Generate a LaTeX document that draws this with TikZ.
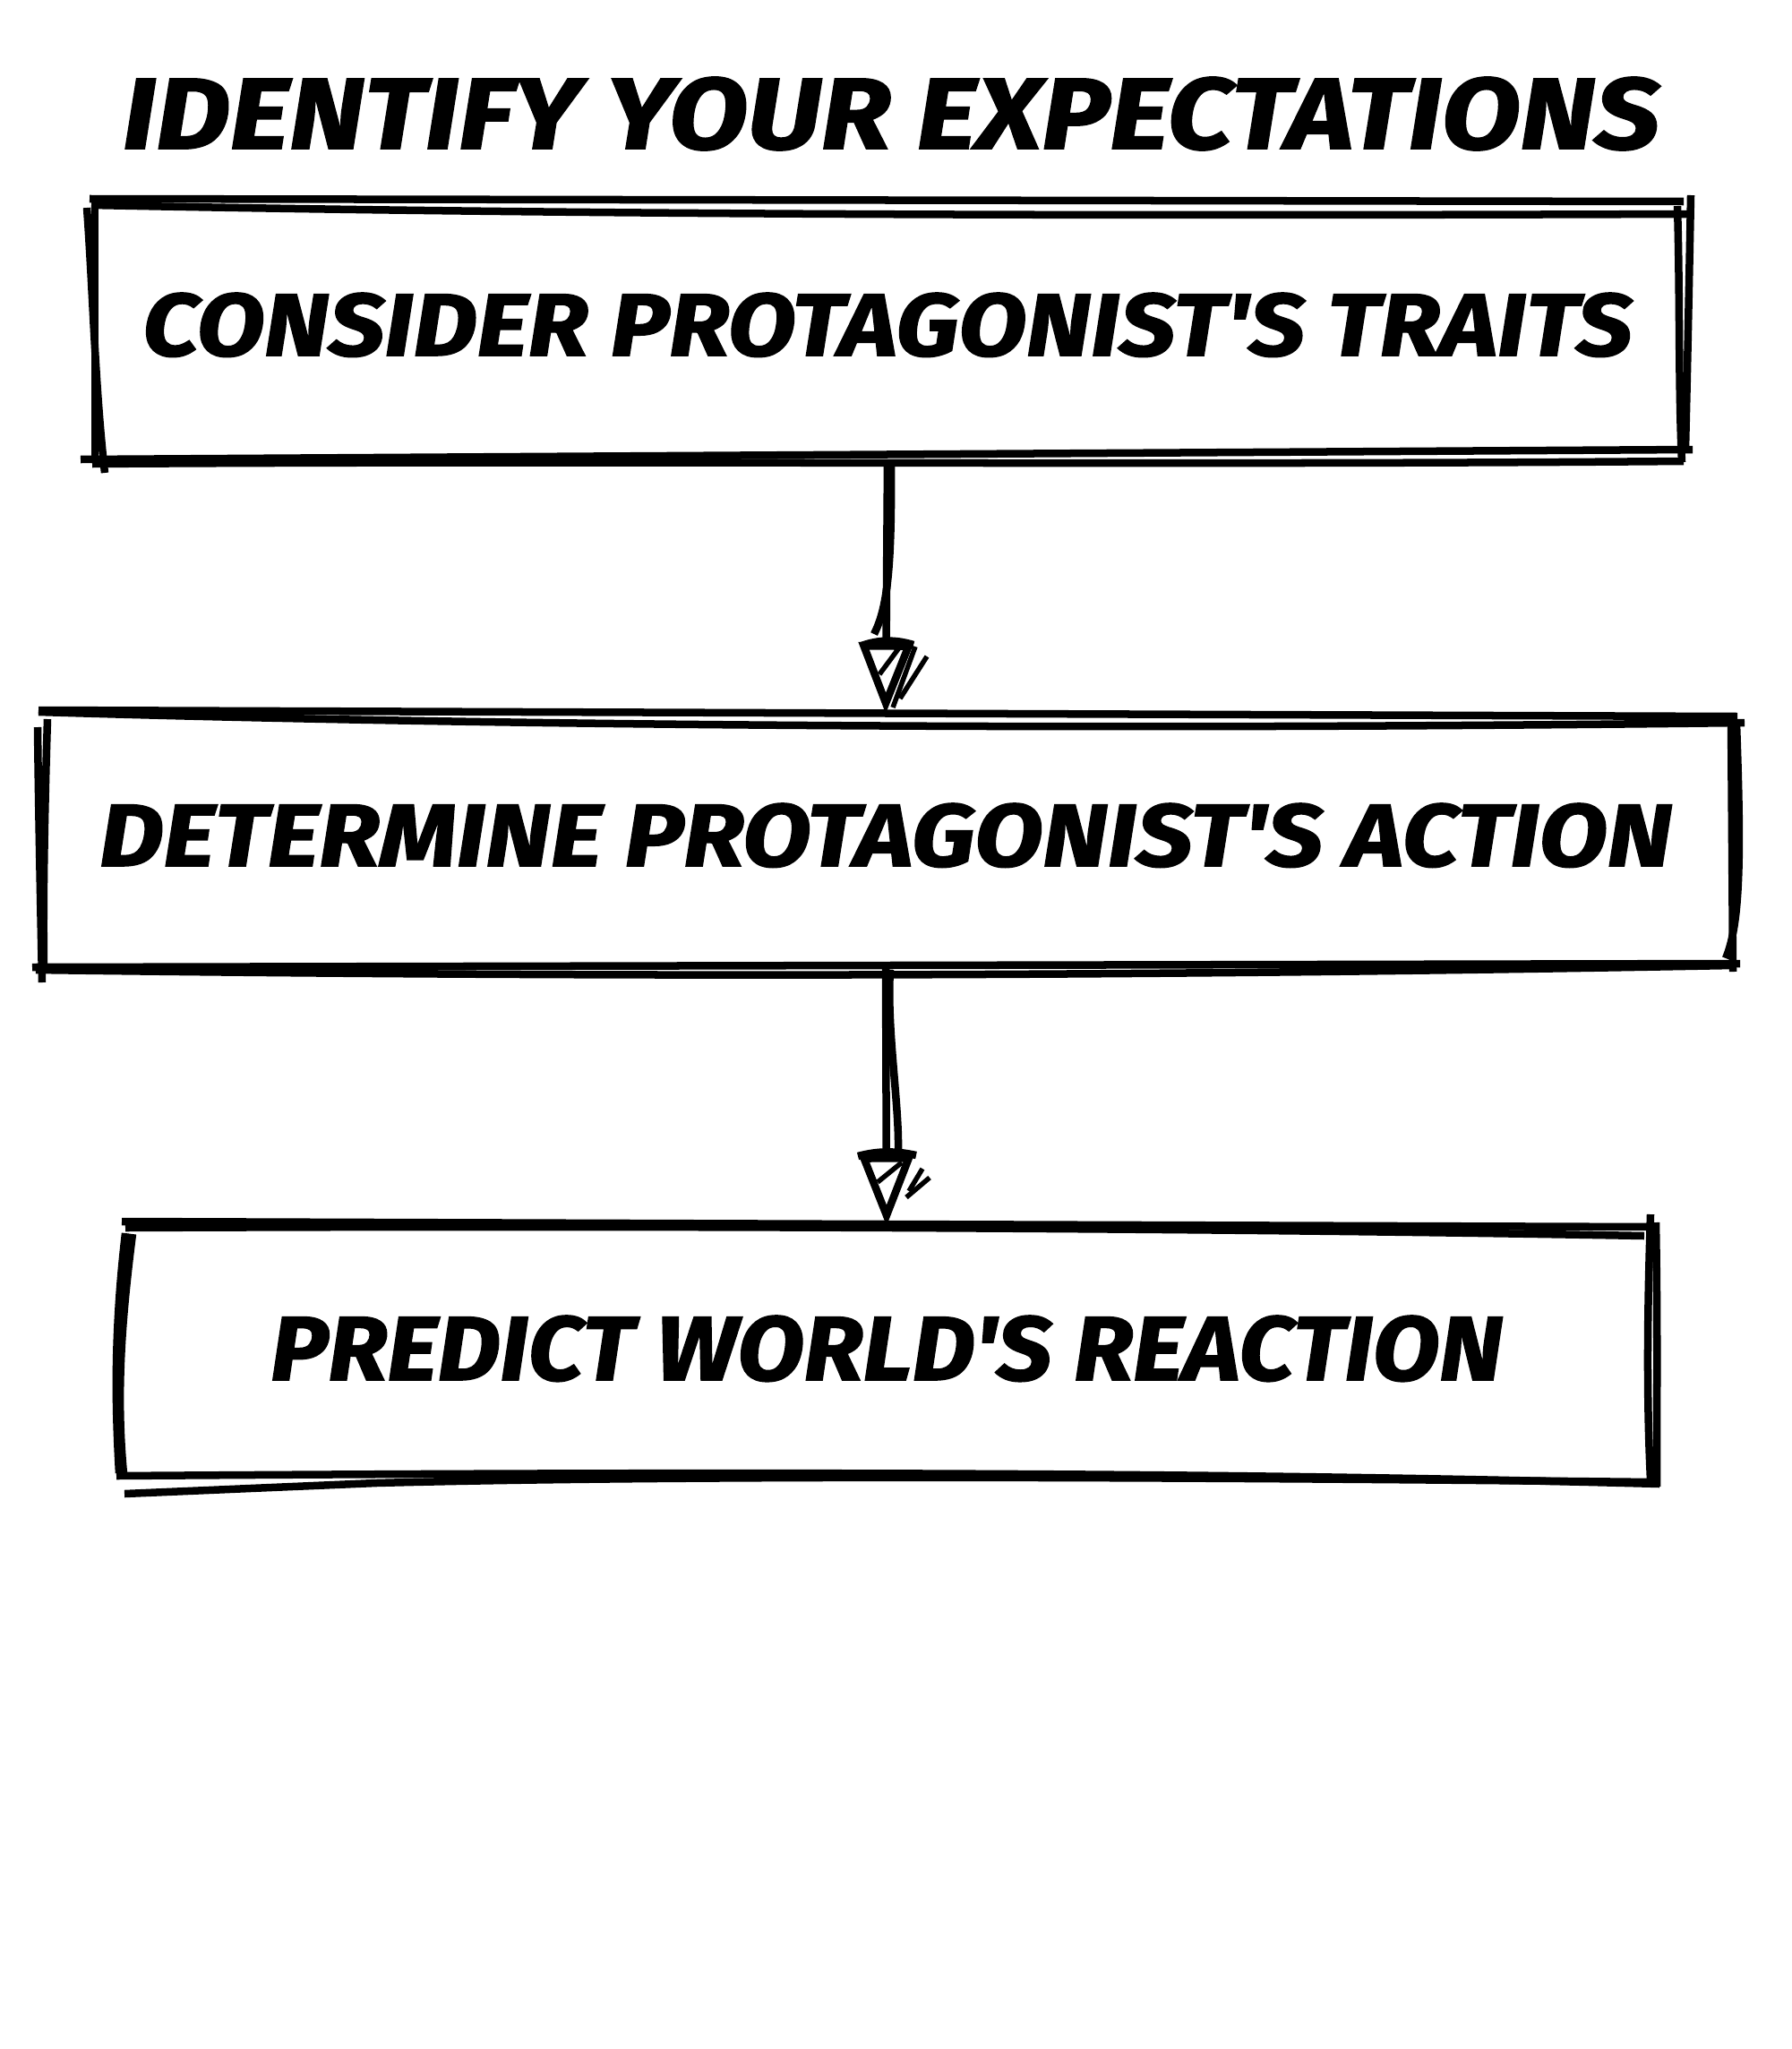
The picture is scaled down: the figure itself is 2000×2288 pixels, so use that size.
\documentclass[tikz,border=0pt]{standalone}
\usepackage{fontspec}
\newfontfamily\hand[BoldItalicFeatures={FakeBold=1.6}]{Fira Sans}
\usetikzlibrary{arrows.meta}
\begin{document}
\begin{tikzpicture}[x=0.01cm,y=-0.01cm,
  sk/.style={line width=0.085cm, line cap=butt, line join=round},
  hatch/.style={line width=0.055cm, line cap=butt},
  box/.style={draw=none, inner sep=0pt, text depth=0.12cm},
  lbl/.style={font=\hand\bfseries\itshape},
  conn/.style={sk, -{Triangle[open,length=0.8cm,width=0.6cm,line width=0.085cm]}}]
\useasboundingbox (0,0) rectangle (2000,2288);
\fill[white] (0,0) rectangle (2000,2288);

% title
\node[lbl, inner sep=0pt] (title) at (995,127) {\resizebox{17.15cm}{0.80cm}{IDENTIFY YOUR EXPECTATIONS}};

% boxes (text nodes)
\node[box, lbl, minimum width=17.77cm, minimum height=2.90cm] (b1) at (991,368)
  {\resizebox{16.62cm}{0.70cm}{CONSIDER PROTAGONIST'S TRAITS}};
\node[box, lbl, minimum width=18.88cm, minimum height=2.80cm] (b2) at (989,938)
  {\resizebox{17.55cm}{0.70cm}{DETERMINE PROTAGONIST'S ACTION}};
\node[box, lbl, minimum width=17.10cm, minimum height=2.82cm] (b3) at (990,1511)
  {\resizebox{13.75cm}{0.72cm}{PREDICT WORLD'S REACTION}};

% box 1 sketch strokes
\draw[sk] (100,222) -- (1880,225);
\draw[sk] (102,229) .. controls (700,241) and (1300,241) .. (1886,239);
\draw[sk] (106,224) -- (106,515);
\draw[sk] (97,232) .. controls (104,330) and (106,430) .. (117,528);
\draw[sk] (1873,230) .. controls (1876,330) and (1874,430) .. (1878,516);
\draw[sk] (1888,218) .. controls (1886,320) and (1884,420) .. (1882,501);
\draw[sk] (90,513) -- (1890,502);
\draw[sk] (103,518) .. controls (700,514) and (1300,520) .. (1880,515);

% box 2 sketch strokes
\draw[sk] (43,793) -- (1940,800);
\draw[sk] (43,795) .. controls (600,812) and (1300,815) .. (1948,807);
\draw[sk] (42,812) .. controls (43,900) and (45,1000) .. (47,1097);
\draw[sk] (53,803) .. controls (50,900) and (48,1000) .. (49,1077);
\draw[sk] (1933,805) -- (1935,1085);
\draw[sk] (1939,808) .. controls (1944,950) and (1944,1030) .. (1927,1070);
\draw[sk] (36,1080) -- (1943,1076);
\draw[sk] (40,1083) .. controls (700,1092) and (1300,1090) .. (1935,1078);

% box 3 sketch strokes
\draw[sk] (136,1364) -- (1850,1370);
\draw[sk] (140,1371) .. controls (800,1368) and (1400,1372) .. (1836,1380);
\draw[sk] (140,1377) .. controls (128,1480) and (128,1560) .. (133,1645);
\draw[sk] (148,1378) .. controls (135,1480) and (130,1560) .. (138,1645);
\draw[sk] (1843,1356) .. controls (1840,1450) and (1838,1550) .. (1843,1653);
\draw[sk] (1849,1365) .. controls (1851,1480) and (1850,1560) .. (1850,1660);
\draw[sk] (130,1648) .. controls (700,1644) and (1300,1642) .. (1853,1657);
\draw[sk] (139,1668) -- (420,1656) .. controls (800,1646) and (1400,1650) .. (1845,1655);

% connectors
\draw[conn] (b1.south) -- (b2.north);
\draw[sk] (995,520) .. controls (996,640) and (990,680) .. (976,708);
\draw[sk] (962,721) .. controls (982,714) and (1000,714) .. (1020,720);
\draw[hatch] (1005,722) -- (982,753);
\draw[hatch] (1035,733) -- (1005,780);
\draw[hatch] (1022,722) -- (997,790);

\draw[conn] (b2.south) -- (b3.north);
\draw[sk] (994,1083) .. controls (990,1150) and (1004,1230) .. (1003,1285);
\draw[sk] (958,1291) .. controls (980,1285) and (1000,1285) .. (1023,1290);
\draw[hatch] (1007,1298) -- (980,1320);
\draw[hatch] (1038,1315) -- (1012,1337);
\draw[hatch] (1030,1305) -- (1015,1330);
\end{tikzpicture}
\end{document}
